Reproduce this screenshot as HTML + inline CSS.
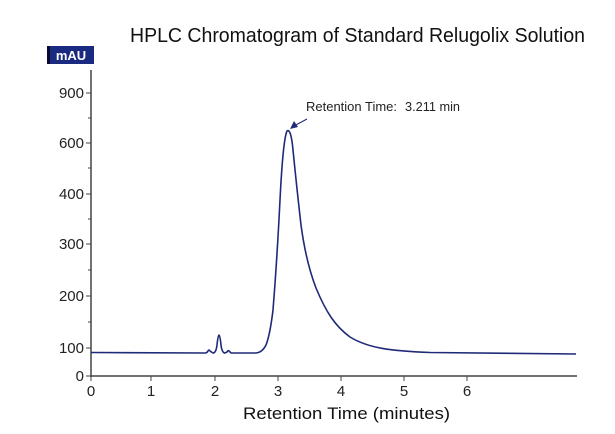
<!DOCTYPE html>
<html><head><meta charset="utf-8"><style>
html,body{margin:0;padding:0;background:#fff;}
svg{display:block;font-family:"Liberation Sans",sans-serif;}
</style></head><body>
<svg width="615" height="434" viewBox="0 0 615 434">
<text x="130" y="42" font-size="20" textLength="455" lengthAdjust="spacingAndGlyphs" fill="#111">HPLC Chromatogram of Standard Relugolix Solution</text>
<rect x="47" y="46" width="47" height="18" fill="#1a2a80"/>
<rect x="47" y="46" width="3" height="18" fill="#0a0a30"/>
<text x="71" y="60" font-size="13" font-weight="bold" fill="#fff" text-anchor="middle">mAU</text>
<g stroke="#444" stroke-width="1.5" fill="none">
<line x1="91" y1="70" x2="91" y2="377"/>
<line x1="90" y1="376" x2="577" y2="376"/>
</g>
<g stroke="#444" stroke-width="1">
<line x1="86" y1="93" x2="91" y2="93"/><line x1="88" y1="118" x2="91" y2="118"/>
<line x1="86" y1="143" x2="91" y2="143"/><line x1="88" y1="168" x2="91" y2="168"/>
<line x1="86" y1="194" x2="91" y2="194"/><line x1="88" y1="219" x2="91" y2="219"/>
<line x1="86" y1="244" x2="91" y2="244"/><line x1="88" y1="270" x2="91" y2="270"/>
<line x1="86" y1="296" x2="91" y2="296"/><line x1="88" y1="322" x2="91" y2="322"/>
<line x1="86" y1="348" x2="91" y2="348"/><line x1="86" y1="376" x2="91" y2="376"/>
<line x1="91" y1="376" x2="91" y2="381"/><line x1="151" y1="376" x2="151" y2="381"/>
<line x1="215" y1="376" x2="215" y2="381"/><line x1="278" y1="376" x2="278" y2="381"/>
<line x1="341" y1="376" x2="341" y2="381"/><line x1="404" y1="376" x2="404" y2="381"/>
<line x1="467" y1="376" x2="467" y2="381"/>
</g>
<g font-size="15" fill="#222" text-anchor="end">
<text x="84" y="98">900</text><text x="84" y="148">600</text><text x="84" y="199">400</text>
<text x="84" y="249">300</text><text x="84" y="301">200</text><text x="84" y="353">100</text>
<text x="84" y="381">0</text>
</g>
<g font-size="15" fill="#222" text-anchor="middle">
<text x="91" y="396">0</text><text x="151" y="396">1</text><text x="215" y="396">2</text>
<text x="278" y="396">3</text><text x="341" y="396">4</text><text x="404" y="396">5</text><text x="467" y="396">6</text>
</g>
<text x="243" y="419" font-size="17" textLength="207" lengthAdjust="spacingAndGlyphs" fill="#111">Retention Time (minutes)</text>
<path fill="none" stroke="#1f2a78" stroke-width="1.6" d="M91,352.5 L205,353 Q207,353 208,351 Q209,349 210,351 L213,353 Q216,353 217,345 Q218,335 219,335 Q220,335 221,345 Q222,353 225,353 L227,352 Q228,350 229,351 L231,353 L255,353 Q262,353 266,345 Q270,335 273,310 Q277,260 280,200 Q283,140 287,131 Q291,128 293,150 Q297,190 301,225 Q306,262 316,288 C326,312 335,326 350,337 C368,348 390,351 430,352.5 L576,354"/>
<line x1="307" y1="119" x2="294" y2="126" stroke="#1f2a78" stroke-width="1"/>
<polygon points="290,129 294,121 298,127" fill="#1f2a78"/>
<text x="306" y="111" font-size="13" textLength="91" lengthAdjust="spacingAndGlyphs" fill="#222">Retention Time:</text>
<text x="405" y="111" font-size="13" textLength="55" lengthAdjust="spacingAndGlyphs" fill="#222">3.211 min</text>
</svg>
</body></html>
